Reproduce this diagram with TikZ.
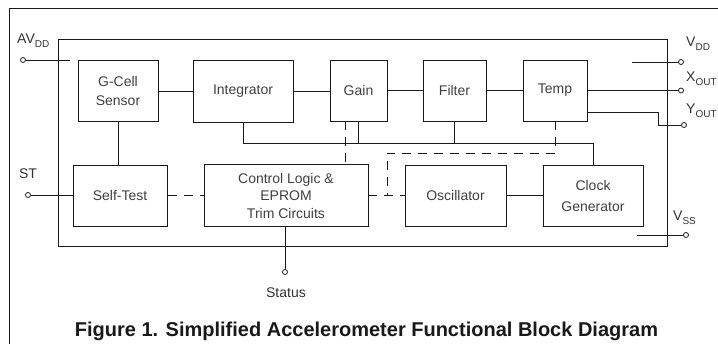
\documentclass[tikz,border=0pt]{standalone}
\usepackage{fontspec}
\setmainfont{Liberation Sans}
\newcommand\lblsub[1]{\raisebox{-0.5ex}{\fontsize{10}{10}\selectfont #1}}
\begin{document}
\begin{tikzpicture}[x=1pt,y=-1pt,
  wire/.style={draw=black!90, line width=0.9pt},
  dwire/.style={wire, dash pattern=on 9pt off 7pt},
  blk/.style={draw=black!90, line width=0.9pt, rectangle, inner sep=0pt, align=center,
     font=\fontsize{14}{19}\selectfont, text=black!75},
  pin/.style={circle, draw=black!90, fill=white, line width=0.8pt, inner sep=0pt, minimum size=5pt},
  lbl/.style={inner sep=0pt, font=\fontsize{14}{16}\selectfont, text=black!80}]
\useasboundingbox (0,0) rectangle (718,343);
\fill[white] (0,0) rectangle (718,343);
% frames
\draw[wire] (9,345) -- (9,8) -- (720,8);
\draw[wire] (58,39) rectangle (667,246);
% blocks, top row
\node[blk, minimum width=80pt, minimum height=61pt] (gcell) at (118,90.5) {G-Cell\\Sensor};
\node[blk, minimum width=100pt, minimum height=62pt] (integ) at (243,91) {Integrator};
\node[blk, minimum width=57pt, minimum height=61pt] (gain) at (358.5,90.5) {Gain};
\node[blk, minimum width=63pt, minimum height=61pt] (filter) at (454.5,90.5) {Filter};
\node[blk, minimum width=64pt, minimum height=61pt] (temp) at (555,90.5) {Temp};
% blocks, bottom row
\node[blk, minimum width=94pt, minimum height=61pt] (selftest) at (120,195.5) {Self-Test};
\node[blk, minimum width=164pt, minimum height=62pt, font=\fontsize{14}{17.5}\selectfont] (ctrl) at (286,195.5) {Control Logic \&\\EPROM\\Trim Circuits};
\node[blk, minimum width=101pt, minimum height=61pt] (osc) at (455.5,195.5) {Oscillator};
\node[blk, minimum width=100pt, minimum height=61pt, font=\fontsize{14}{21}\selectfont] (clock) at (593,195.5) {Clock\\Generator};
% pins
\node[pin] (avdd) at (23,60) {};
\node[pin] (st) at (28,195) {};
\node[pin] (status) at (285,272) {};
\node[pin] (vdd) at (681,62) {};
\node[pin] (xout) at (681,90.5) {};
\node[pin] (yout) at (684,125) {};
\node[pin] (vss) at (686,235) {};
% free ends and bends
\coordinate (avddend) at (70,60);
\coordinate (vddend) at (632,62);
\coordinate (vssend) at (637,235);
\coordinate (ytap) at (587,112);
\coordinate (ybend) at (658,112);
\coordinate (busL) at (243,143);
\coordinate (busR) at (593,143);
\coordinate (dT) at (555,153);
\coordinate (dL) at (387,153);
\coordinate (dJ) at (387,195);
% pin labels
\node[lbl, anchor=west] at (17,41) {AV\lblsub{DD}};
\node[lbl] at (28,174) {ST};
\node[lbl] at (286,293) {Status};
\node[lbl, anchor=west] at (686,44) {V\lblsub{DD}};
\node[lbl, anchor=west] at (686,79) {X\lblsub{OUT}};
\node[lbl, anchor=west] at (686,111) {Y\lblsub{OUT}};
\node[lbl, anchor=west] at (673,218) {V\lblsub{SS}};
% connectors
\draw[wire] (avdd) -- (avddend);
\draw[wire] (gcell.east |- integ.west) -- (integ.west);
\draw[wire] (integ.east) -- (gain.west |- integ.east);
\draw[wire] (gain.east) -- (filter.west);
\draw[wire] (filter.east) -- (temp.west);
\draw[wire] (temp.east) -- (xout);
\draw[wire] (vddend) -- (vdd);
\draw[wire] (ytap) -- (ybend) |- (yout);
\draw[wire] (vssend) -- (vss);
\draw[wire] (gcell.south) -- (gcell.south |- selftest.north);
\draw[wire] (st) -- (selftest.west |- st);
\draw[dwire, dash phase=-1pt] (selftest.east |- st) -- (ctrl.west |- st);
\draw[dwire] (ctrl.east |- dJ) -- (osc.west |- dJ);
\draw[wire] (osc.east) -- (clock.west);
\draw[wire] (ctrl.south -| status) -- (status);
\draw[wire] (integ.south) -- (busL) -- (busR) -- (clock.north -| busR);
\draw[wire] (filter.south) -- (filter.south |- busL);
\draw[wire] (gain.south) -- (gain.south |- busL);
\draw[dwire] (345,121) -- (345,164.5);
\draw[dwire] (temp.south -| dT) -- (dT) -- (dL) -- (dJ);
% caption
\node[anchor=base, inner sep=0pt, font=\fontsize{20}{24}\selectfont\bfseries, text=black!90] (cap) at (366.5,336) {Figure 1. Simplified Accelerometer Functional Block Diagram};
\end{tikzpicture}
\end{document}
